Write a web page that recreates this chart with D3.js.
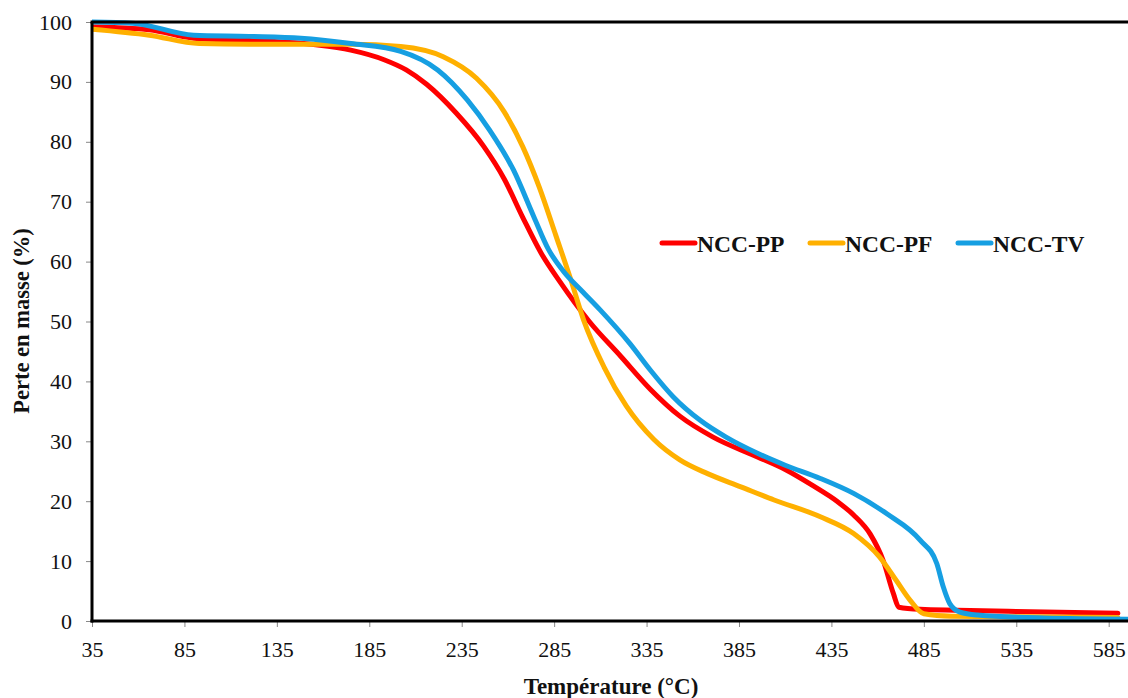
<!DOCTYPE html>
<html>
<head>
<meta charset="utf-8">
<script src="https://cdn.jsdelivr.net/npm/d3@7"></script>
<style>
  html, body { margin: 0; padding: 0; background: #fff; }
  svg { display: block; }
  text { font-family: "Liberation Serif", "Times New Roman", serif; fill: #111; }
</style>
</head>
<body>
<svg id="chart" width="1128" height="698"></svg>
<script>
// ---- Data ----
const seriesNames = ["NCC-PP", "NCC-PF", "NCC-TV"];

const tempPP = [35, 66, 90, 120, 156, 175, 193, 205, 216, 232, 247, 258, 268, 278, 288, 304, 321, 337, 353, 371, 395, 410, 425, 438, 447, 456, 463, 468.5, 471.5, 483, 503, 535, 590];
const massPP = [99.2, 98.7, 97.3, 96.9, 96.2, 95.3, 93.7, 92.0, 89.6, 84.8, 79.2, 73.8, 67.4, 61.4, 56.7, 50.0, 44.2, 38.7, 34.2, 30.7, 27.4, 25.3, 22.6, 20.0, 17.7, 14.5, 10.1, 4.6, 2.3, 1.95, 1.8, 1.6, 1.3];

const tempPF = [35, 66, 93, 120, 175, 202, 225, 243, 258, 268, 277, 286, 294, 301, 312, 324, 339, 353, 368, 386, 404, 429, 447, 461, 470, 477.5, 485, 500, 540, 590];
const massPF = [98.8, 97.8, 96.4, 96.3, 96.3, 95.9, 94.2, 90.6, 85.0, 79.2, 72.4, 64.3, 57.0, 50.2, 42.4, 35.9, 30.3, 26.9, 24.6, 22.4, 20.2, 17.4, 14.6, 10.7, 6.8, 3.5, 1.2, 0.8, 0.7, 0.6];

const tempTV = [35, 57, 90, 120, 148, 175, 202, 222, 238, 250, 263, 274, 282, 290, 300, 310, 326, 337, 349.5, 364, 378, 395, 410, 429, 447, 465, 483, 492, 495.5, 499, 504.5, 514, 550, 600];
const massTV = [100, 99.8, 97.8, 97.6, 97.3, 96.4, 95.1, 92, 87, 82, 75.3, 67.5, 62.0, 58.4, 55.1, 51.9, 46.3, 41.9, 37.4, 33.5, 30.7, 28.0, 26.0, 23.8, 21.3, 17.9, 13.5, 9.6, 5.7, 2.9, 1.5, 1.0, 0.5, 0.3];

const xTicks = [35, 85, 135, 185, 235, 285, 335, 385, 435, 485, 535, 585];
const yTicks = [0, 10, 20, 30, 40, 50, 60, 70, 80, 90, 100];

const xTitle = "Température (°C)";
const yTitle = "Perte en masse (%)";

// ---- Layout ----
const colors = ["#ff0000", "#ffb000", "#169fe2"];
const plotL = 92, plotT = 22, plotB = 621;
const plotR = 92 + 565 * (1016.7 / 550);

const svg = d3.select("#chart");
const x = d3.scaleLinear().domain([35, 600]).range([plotL, plotR]);
const y = d3.scaleLinear().domain([0, 100]).range([plotB, plotT]);

// axes ticks
const gx = svg.append("g").attr("transform", `translate(0,${plotB})`)
  .call(d3.axisBottom(x).tickValues(xTicks).tickSize(6).tickPadding(14).tickFormat(d3.format("d")));
gx.select(".domain").remove();
gx.selectAll(".tick line").attr("stroke", "#888").attr("stroke-width", 1);
gx.selectAll(".tick text").style("font-size", "22px").style("font-family", "Liberation Serif").attr("fill", "#111");

const gy = svg.append("g").attr("transform", `translate(${plotL},0)`)
  .call(d3.axisLeft(y).tickValues(yTicks).tickSize(6).tickPadding(14).tickFormat(d3.format("d")));
gy.select(".domain").remove();
gy.selectAll(".tick line").attr("stroke", "#888").attr("stroke-width", 1);
gy.selectAll(".tick text").style("font-size", "22px").style("font-family", "Liberation Serif").attr("fill", "#111");

// series lines
const series = [
  { name: seriesNames[0], t: tempPP, m: massPP },
  { name: seriesNames[1], t: tempPF, m: massPF },
  { name: seriesNames[2], t: tempTV, m: massTV }
];
const line = d3.line().x(d => x(d[0])).y(d => y(d[1])).curve(d3.curveMonotoneX);
svg.append("clipPath").attr("id", "clip").append("rect")
  .attr("x", plotL).attr("y", plotT - 3).attr("width", plotR - plotL).attr("height", plotB - plotT + 3);
const lg = svg.append("g").attr("clip-path", "url(#clip)");
series.forEach((s, i) => {
  const pts = s.t.map((t, j) => [t, s.m[j]]);
  lg.append("path").datum(pts)
    .attr("d", line)
    .attr("fill", "none")
    .attr("stroke", colors[i])
    .attr("stroke-width", 5)
    .attr("stroke-linejoin", "round")
    .attr("stroke-linecap", "round");
});

// frame
svg.append("line").attr("x1", plotL).attr("x2", plotL).attr("y1", plotT).attr("y2", plotB + 1.5)
  .attr("stroke", "#000").attr("stroke-width", 3);
svg.append("line").attr("x1", plotL - 1.5).attr("x2", 1128).attr("y1", plotB).attr("y2", plotB)
  .attr("stroke", "#000").attr("stroke-width", 3);
svg.append("line").attr("x1", plotL - 1.5).attr("x2", 1128).attr("y1", plotT).attr("y2", plotT)
  .attr("stroke", "#000").attr("stroke-width", 3);

// legend
const legendItems = [
  { x: 662, name: seriesNames[0], c: colors[0] },
  { x: 810, name: seriesNames[1], c: colors[1] },
  { x: 958, name: seriesNames[2], c: colors[2] }
];
const legY = 243;
legendItems.forEach(it => {
  svg.append("line").attr("x1", it.x).attr("x2", it.x + 33).attr("y1", legY).attr("y2", legY)
    .attr("stroke", it.c).attr("stroke-width", 5).attr("stroke-linecap", "round");
  svg.append("text").attr("x", it.x + 35).attr("y", legY + 9)
    .style("font-size", "23.5px").style("font-weight", "bold").text(it.name);
});

// axis titles
svg.append("text").attr("x", 611).attr("y", 694).attr("text-anchor", "middle")
  .style("font-size", "23px").style("font-weight", "bold").text(xTitle);
svg.append("text").attr("transform", `translate(29,321) rotate(-90)`).attr("text-anchor", "middle")
  .style("font-size", "22.5px").style("font-weight", "bold").text(yTitle);
</script>
</body>
</html>
